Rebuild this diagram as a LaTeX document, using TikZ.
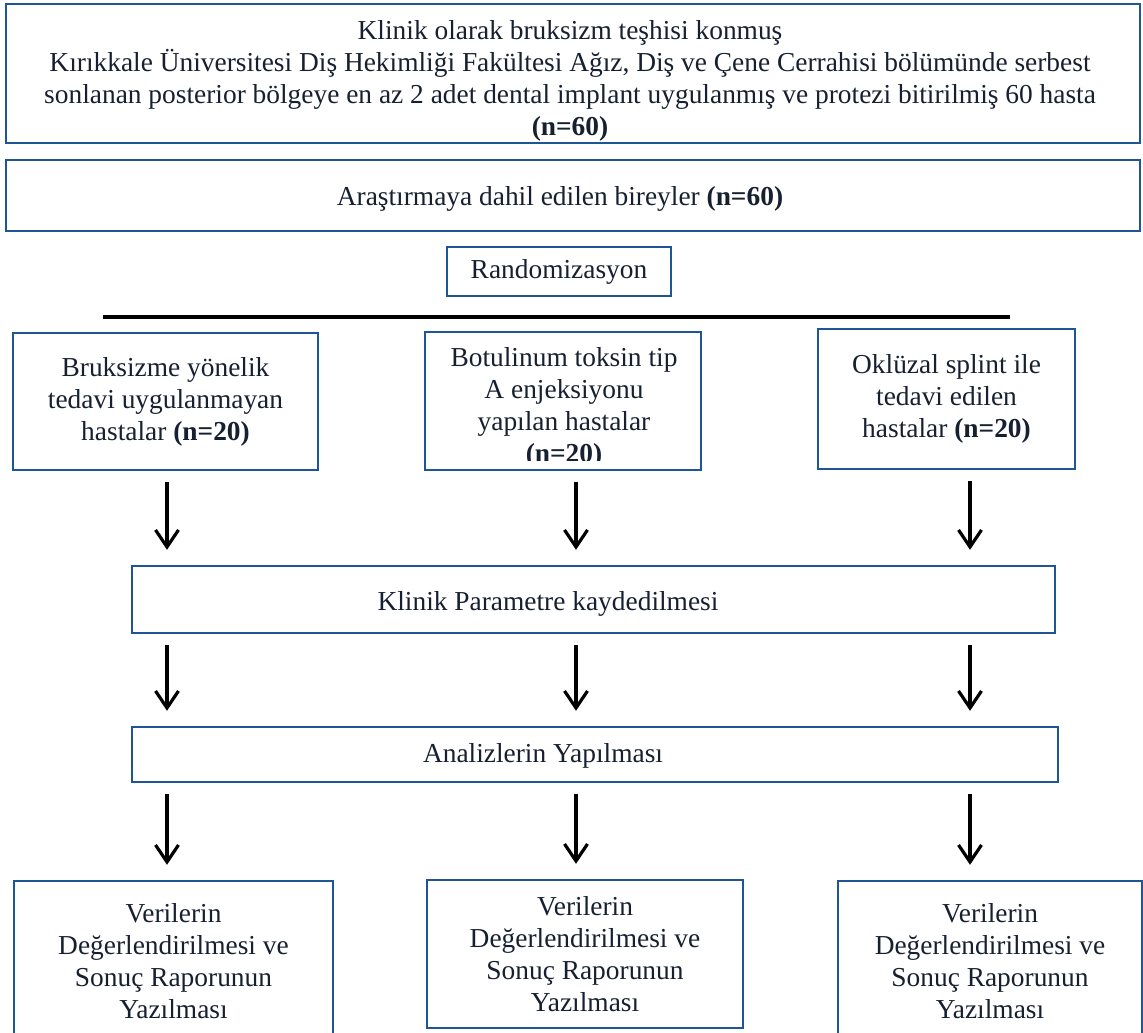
\documentclass[tikz,border=0pt]{standalone}
\usepackage{fontspec}
\setmainfont{Liberation Serif}
\usepackage{xcolor}
\definecolor{boxblue}{RGB}{30,85,150}
\definecolor{inknavy}{RGB}{23,32,48}
\usetikzlibrary{arrows.meta,positioning,calc}

\begin{document}
\begin{tikzpicture}[
    x=0.5pt, y=-0.5pt,
    box/.style={rectangle, draw=boxblue, line width=1.2pt, fill=white, inner sep=0pt},
    txt/.style={align=center, text=inknavy, inner sep=0pt, font=\fontsize{13.7pt}{16pt}\selectfont},
    arrow/.style={-{Straight Barb[length=8.5pt,width=11.5pt]}, line width=1.6pt, shorten <=5.5pt, shorten >=7.5pt},
    splitline/.style={line width=2pt}
]
\useasboundingbox (0,0) rectangle (1143,1032);

% Inclusion
\node[box, minimum width=567pt, minimum height=69.5pt] (top) at (573,73.5) {};
\begin{scope}
    \clip ([yshift=1pt]top.south west) rectangle (top.north east);
    \node[txt] (toptxt) at (570,80.5) {Klinik olarak bruksizm teşhisi konmuş\\Kırıkkale Üniversitesi Diş Hekimliği Fakültesi Ağız, Diş ve Çene Cerrahisi bölümünde serbest\\sonlanan posterior bölgeye en az 2 adet dental implant uygulanmış ve protezi bitirilmiş 60 hasta\\\textbf{(n=60)}};
\end{scope}
\node[box, minimum width=567pt, minimum height=35.5pt] (incl) at (573,195.5) {};
\node[txt] (incltxt) at (560,199) {Araştırmaya dahil edilen bireyler \textbf{(n=60)}};
\node[box, txt, minimum width=112pt, minimum height=24.5pt] (rand) at (559,271.5) {Randomizasyon};

% Split
\coordinate (splitL) at (103,317);
\coordinate (splitR) at (1010,317);
\draw[splitline] (splitL) -- (splitR);

% Groups
\node[box, txt, minimum width=152.5pt, minimum height=68.5pt] (grp1) at (165.5,401.5) {Bruksizme yönelik\\tedavi uygulanmayan\\hastalar \textbf{(n=20)}};
\node[box, minimum width=138pt, minimum height=69pt] (grp2) at (563,401) {};
\begin{scope}
    \clip ([yshift=5.5pt]grp2.south west) rectangle (grp2.north east);
    \node[txt] (grp2txt) at (564,408) {Botulinum toksin tip\\A enjeksiyonu\\yapılan hastalar\\\textbf{(n=20)}};
\end{scope}
\node[box, txt, minimum width=128.5pt, minimum height=70pt] (grp3) at (946.5,399) {Oklüzal splint ile\\tedavi edilen\\hastalar \textbf{(n=20)}};

% Steps
\node[box, minimum width=461.5pt, minimum height=33.5pt] (klinik) at (593.5,599.5) {};
\node[txt] (kliniktxt) at (548,604) {Klinik Parametre kaydedilmesi};
\node[box, minimum width=463pt, minimum height=27.5pt] (analiz) at (595,754.5) {};
\node[txt] (analiztxt) at (543,756) {Analizlerin Yapılması};

% Results
\node[box, txt, minimum width=159.5pt, minimum height=80pt] (res1) at (173.5,961) {Verilerin\\Değerlendirilmesi ve\\Sonuç Raporunun\\Yazılması};
\node[box, txt, minimum width=158pt, minimum height=74pt] (res2) at (585,954) {Verilerin\\Değerlendirilmesi ve\\Sonuç Raporunun\\Yazılması};
\node[box, txt, minimum width=152pt, minimum height=80pt] (res3) at (990,961) {Verilerin\\Değerlendirilmesi ve\\Sonuç Raporunun\\Yazılması};

% Arrows
\coordinate (c1) at (167,0);
\coordinate (c2) at (576,0);
\coordinate (c3) at (970,0);
\draw[arrow] (c1 |- grp1.south) -- (c1 |- klinik.north);
\draw[arrow] (c2 |- grp2.south) -- (c2 |- klinik.north);
\draw[arrow] (c3 |- grp3.south) -- (c3 |- klinik.north);
\draw[arrow] (c1 |- klinik.south) -- (c1 |- analiz.north);
\draw[arrow] (c2 |- klinik.south) -- (c2 |- analiz.north);
\draw[arrow] (c3 |- klinik.south) -- (c3 |- analiz.north);
\draw[arrow] (c1 |- analiz.south) -- (c1 |- res1.north);
\draw[arrow] (c2 |- analiz.south) -- (c2 |- res2.north);
\draw[arrow] (c3 |- analiz.south) -- (c3 |- res3.north);
\end{tikzpicture}
\end{document}
